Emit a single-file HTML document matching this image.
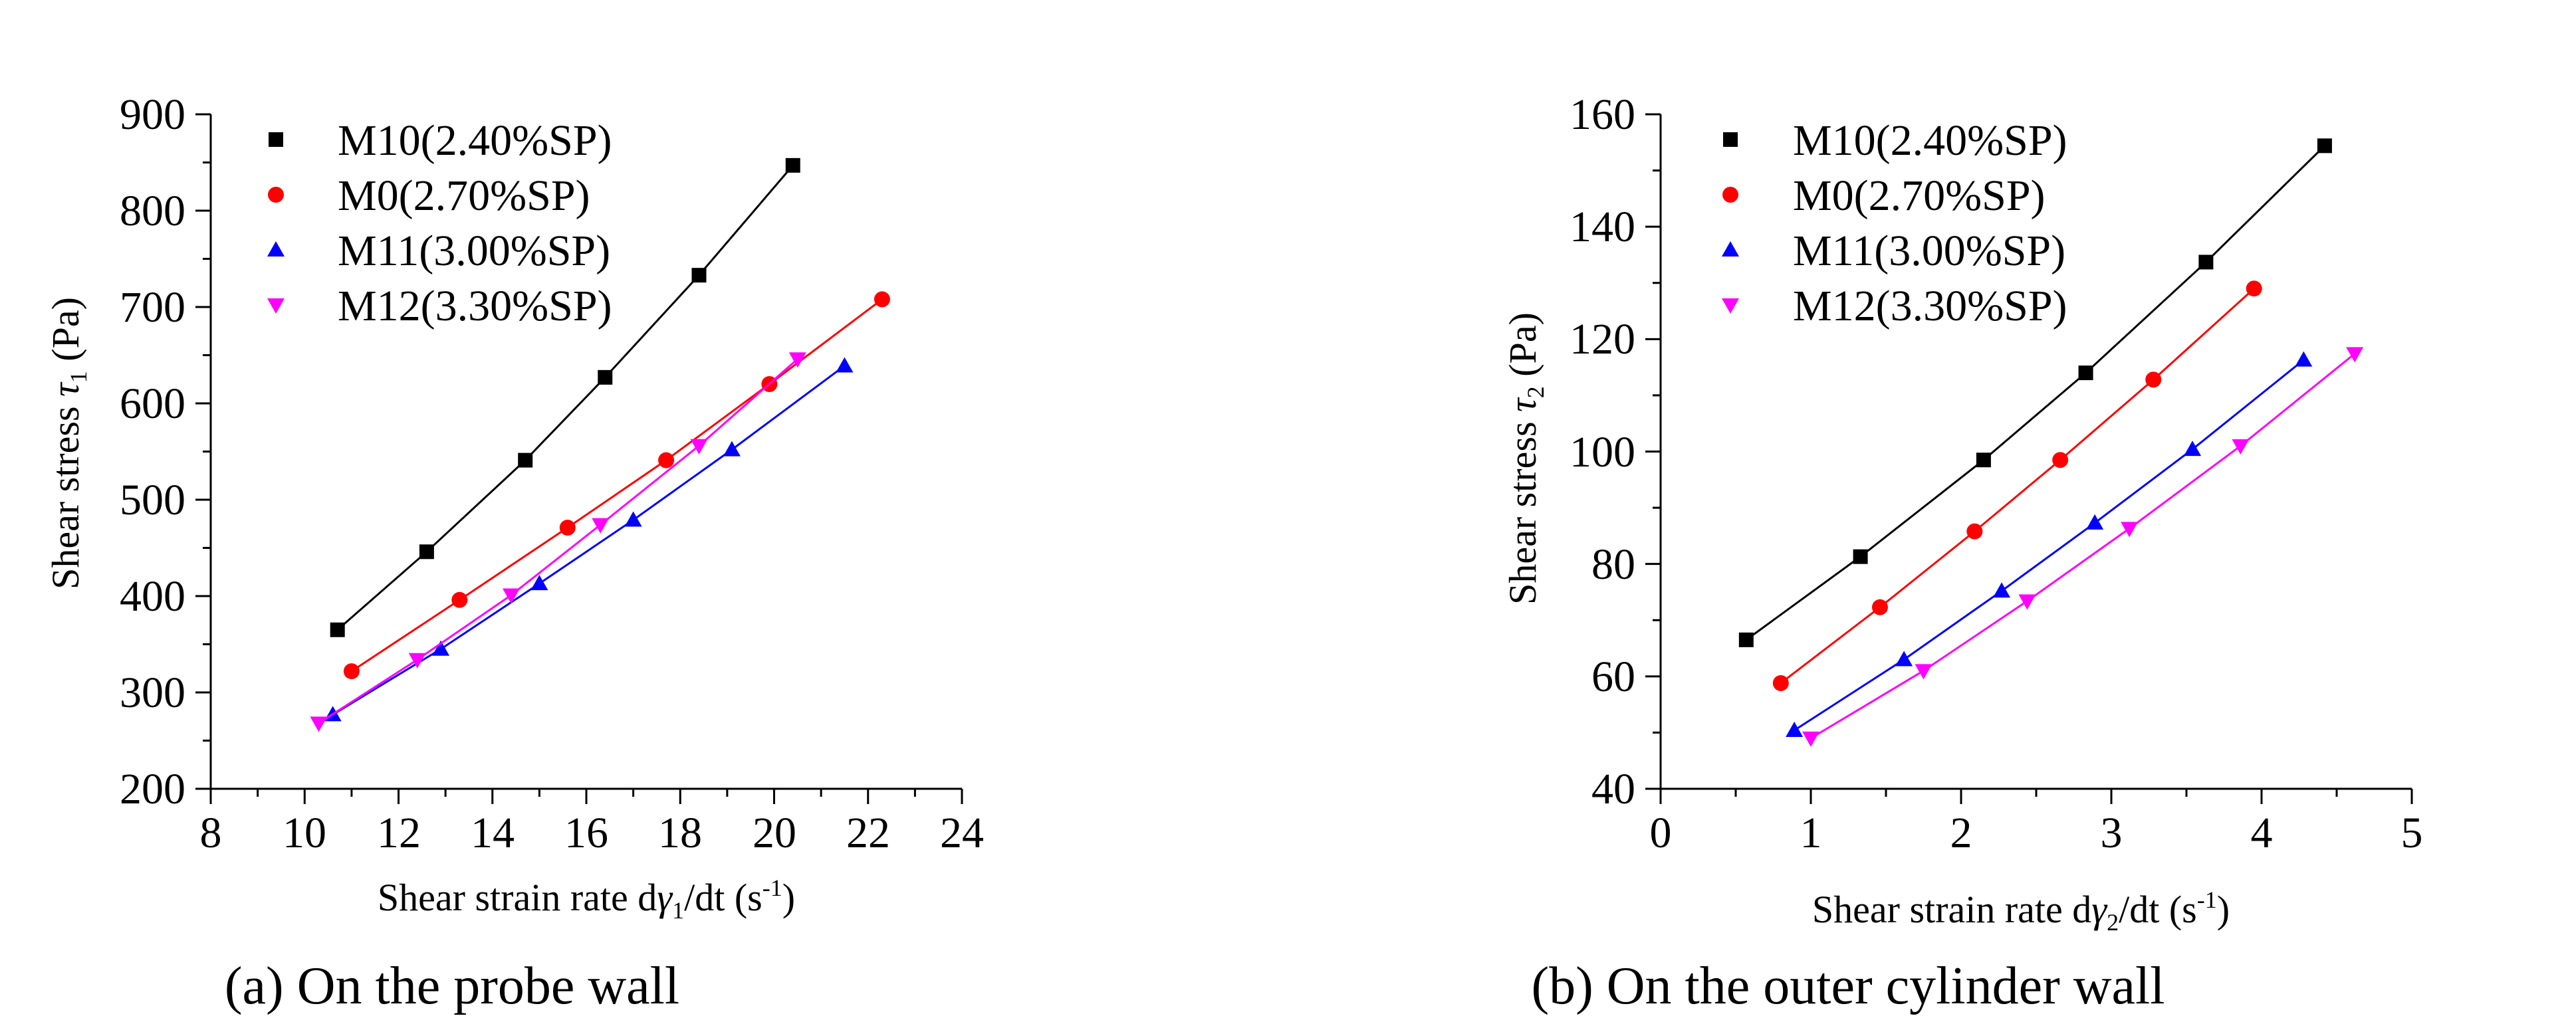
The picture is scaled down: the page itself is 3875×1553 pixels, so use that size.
<!DOCTYPE html>
<html><head><meta charset="utf-8"><style>
html,body{margin:0;padding:0;background:#fff;}
svg{display:block;}
</style></head><body>
<svg id="fig" width="3875" height="1553" viewBox="0 0 3875 1553" xmlns="http://www.w3.org/2000/svg" font-family="Liberation Serif, serif">
<rect width="3875" height="1553" fill="#fff"/>
<g id="chartA"></g>
<g id="chartB"></g>
<g font-family="Liberation Serif, serif" font-size="66" text-anchor="middle">
<text x="317" y="1275">8</text><text x="458" y="1275">10</text><text x="600" y="1275">12</text><text x="741" y="1275">14</text><text x="882" y="1275">16</text><text x="1023" y="1275">18</text><text x="1165" y="1275">20</text><text x="1306" y="1275">22</text><text x="1447" y="1275">24</text>
</g>
<g font-family="Liberation Serif, serif" font-size="66" text-anchor="end">
<text x="279" y="1209">200</text><text x="279" y="1064">300</text><text x="279" y="919">400</text><text x="279" y="774">500</text><text x="279" y="629">600</text><text x="279" y="484">700</text><text x="279" y="339">800</text><text x="279" y="194">900</text>
</g>
<g font-family="Liberation Serif, serif" font-size="66" text-anchor="middle">
<text x="2498" y="1275">0</text><text x="2724" y="1275">1</text><text x="2950" y="1275">2</text><text x="3176" y="1275">3</text><text x="3402" y="1275">4</text><text x="3628" y="1275">5</text>
</g>
<g font-family="Liberation Serif, serif" font-size="66" text-anchor="end">
<text x="2460" y="1209">40</text><text x="2460" y="1040">60</text><text x="2460" y="871">80</text><text x="2460" y="702">100</text><text x="2460" y="532">120</text><text x="2460" y="363">140</text><text x="2460" y="194">160</text>
</g>
<g font-family="Liberation Serif, serif" font-size="66">
<text x="508" y="233">M10(2.40%SP)</text><text x="508" y="316">M0(2.70%SP)</text><text x="508" y="399">M11(3.00%SP)</text><text x="508" y="482">M12(3.30%SP)</text>
</g>
<g font-family="Liberation Serif, serif" font-size="66">
<text x="2697" y="233">M10(2.40%SP)</text><text x="2697" y="316">M0(2.70%SP)</text><text x="2697" y="399">M11(3.00%SP)</text><text x="2697" y="482">M12(3.30%SP)</text>
</g>
<text font-family="Liberation Serif, serif" transform="translate(118,667) rotate(-90)" text-anchor="middle" font-size="58">Shear stress <tspan font-style="italic">τ</tspan><tspan font-size="36" dy="12">1</tspan><tspan dy="-12"> (Pa)</tspan></text>
<text font-family="Liberation Serif, serif" x="882" y="1370" text-anchor="middle" font-size="58">Shear strain rate d<tspan font-style="italic">γ</tspan><tspan font-size="36" dy="12">1</tspan><tspan dy="-12">/dt (s</tspan><tspan font-size="36" dy="-22">-1</tspan><tspan dy="22">)</tspan></text>
<text font-family="Liberation Serif, serif" transform="translate(2310,690) rotate(-90)" text-anchor="middle" font-size="58">Shear stress <tspan font-style="italic">τ</tspan><tspan font-size="36" dy="12">2</tspan><tspan dy="-12"> (Pa)</tspan></text>
<text font-family="Liberation Serif, serif" x="3040" y="1388" text-anchor="middle" font-size="58">Shear strain rate d<tspan font-style="italic">γ</tspan><tspan font-size="36" dy="12">2</tspan><tspan dy="-12">/dt (s</tspan><tspan font-size="36" dy="-22">-1</tspan><tspan dy="22">)</tspan></text>
<text font-family="Liberation Serif, serif" x="680" y="1510" text-anchor="middle" font-size="80">(a) On the probe wall</text>
<text font-family="Liberation Serif, serif" x="2780" y="1510" text-anchor="middle" font-size="80">(b) On the outer cylinder wall</text>
</svg>
<script>
const seriesNames = ["M10(2.40%SP)","M0(2.70%SP)","M11(3.00%SP)","M12(3.30%SP)"];
const aX_M10=[10.7,12.6,14.7,16.4,18.4,20.4];
const aY_M10=[365,446,541,627,733,847];
const aX_M0=[11.0,13.3,15.6,17.7,19.9,22.3];
const aY_M0=[322,396,471,541,620,708];
const aX_M11=[10.6,12.9,15.0,17.0,19.1,21.5];
const aY_M11=[277,345,413,479,552,639];
const aX_M12=[10.3,12.4,14.4,16.3,18.4,20.5];
const aY_M12=[268,334,401,474,556,646];
const bX_M10=[0.57,1.33,2.15,2.83,3.63,4.42];
const bY_M10=[66.5,81.3,98.5,114,133.7,154.4];
const bX_M0=[0.8,1.46,2.09,2.66,3.28,3.95];
const bY_M0=[58.8,72.3,85.8,98.5,112.8,129];
const bX_M11=[0.89,1.62,2.27,2.89,3.54,4.28];
const bY_M11=[50.4,63,75.2,87.3,100.4,116.3];
const bX_M12=[1.0,1.75,2.44,3.12,3.86,4.62];
const bY_M12=[49,61,73.4,86.3,101,117.4];
const aXTicks=[8,10,12,14,16,18,20,22,24];
const aYTicks=[200,300,400,500,600,700,800,900];
const bXTicks=[0,1,2,3,4,5];
const bYTicks=[40,60,80,100,120,140,160];

const NS="http://www.w3.org/2000/svg";
const colors=["#000","#ff0000","#0000ff","#ff00ff"];
const shapes=["square","circle","up","down"];
function mk(parent,tag,attrs){const e=document.createElementNS(NS,tag);for(const k in attrs)e.setAttribute(k,attrs[k]);parent.appendChild(e);return e;}
function marker(g,shape,cx,cy,color){
  let e;
  if(shape==="square")e=mk(g,"rect",{x:cx-11,y:cy-11,width:22,height:22,fill:color});
  else if(shape==="circle")e=mk(g,"circle",{cx:cx,cy:cy,r:12,fill:color});
  else if(shape==="up")e=mk(g,"polygon",{points:`${cx},${cy-13} ${cx+13},${cy+10} ${cx-13},${cy+10}`,fill:color});
  else e=mk(g,"polygon",{points:`${cx},${cy+13} ${cx+13},${cy-10} ${cx-13},${cy-10}`,fill:color});
  return e;
}
function draw(gid,cfg){
  const g=document.getElementById(gid);
  const sx=v=>cfg.x0+(v-cfg.xmin)/(cfg.xmax-cfg.xmin)*(cfg.x1-cfg.x0);
  const sy=v=>cfg.y0-(v-cfg.ymin)/(cfg.ymax-cfg.ymin)*(cfg.y0-cfg.y1);
  let e=mk(g,"path",{d:`M${cfg.x0},${cfg.y1}V${cfg.y0}H${cfg.x1}`,fill:"none",stroke:"#000","stroke-width":3});
  
  
  cfg.xt.forEach((t,i)=>{
    const x=sx(t);
    let l=mk(g,"line",{x1:x,y1:cfg.y0,x2:x,y2:cfg.y0+23,stroke:"#000","stroke-width":3});
    
    
    if(i<cfg.xt.length-1){const m=sx((t+cfg.xt[i+1])/2);
      let ml=mk(g,"line",{x1:m,y1:cfg.y0,x2:m,y2:cfg.y0+12,stroke:"#000","stroke-width":3});
      
      }
  });
  cfg.yt.forEach((t,i)=>{
    const y=sy(t);
    let l=mk(g,"line",{x1:cfg.x0-23,y1:y,x2:cfg.x0,y2:y,stroke:"#000","stroke-width":3});
    
    
    if(i<cfg.yt.length-1){const m=sy((t+cfg.yt[i+1])/2);
      let ml=mk(g,"line",{x1:cfg.x0-12,y1:m,x2:cfg.x0,y2:m,stroke:"#000","stroke-width":3});
      
      }
  });
  cfg.series.forEach((s,k)=>{
    const sg=mk(g,"g",{});
    
    
    const pts=s[0].map((v,i)=>sx(v)+","+sy(s[1][i])).join(" ");
    let pl=mk(sg,"polyline",{points:pts,fill:"none",stroke:colors[k],"stroke-width":3});
    
    
    s[0].forEach((v,i)=>{
      let m=marker(sg,shapes[k],sx(v),sy(s[1][i]),colors[k]);
      
      
    });
    const lm=marker(g,shapes[k],cfg.legX,210+k*83,colors[k]);
    
    
  });
}
draw("chartA",{x0:317,x1:1447,y0:1187,y1:172,xmin:8,xmax:24,ymin:200,ymax:900,xt:aXTicks,yt:aYTicks,
  legX:415,
  series:[[aX_M10,aY_M10],[aX_M0,aY_M0],[aX_M11,aY_M11],[aX_M12,aY_M12]]});
draw("chartB",{x0:2498,x1:3628,y0:1187,y1:172,xmin:0,xmax:5,ymin:40,ymax:160,xt:bXTicks,yt:bYTicks,
  legX:2603,
  series:[[bX_M10,bY_M10],[bX_M0,bY_M0],[bX_M11,bY_M11],[bX_M12,bY_M12]]});
</script>
</body></html>
